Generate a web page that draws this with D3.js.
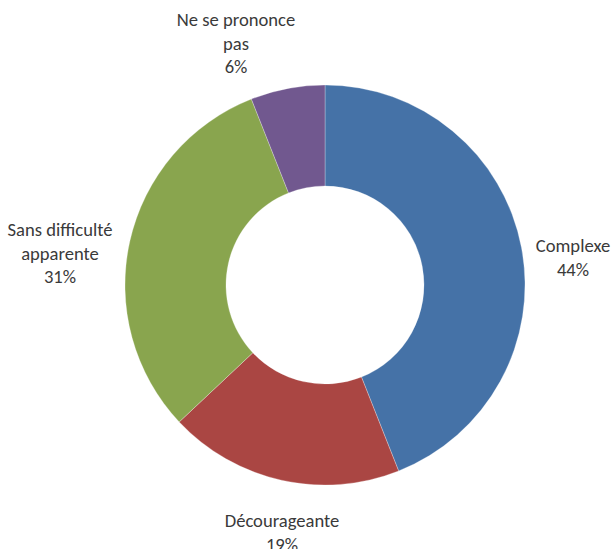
<!DOCTYPE html>
<html>
<head>
<meta charset="utf-8">
<script src="https://cdn.jsdelivr.net/npm/d3@7"></script>
<style>
  html, body { margin: 0; padding: 0; background: #fff; }
  svg { display: block; }
  text { font-family: Carlito, Calibri, Lato, sans-serif; fill: #3a3a3a; }
</style>
</head>
<body>
<svg id="chart" width="612" height="549"></svg>
<script>
// Survey answers, in drawing order (clockwise from 12 o'clock)
const categories = ["Complexe", "Décourageante", "Sans difficulté apparente", "Ne se prononce pas"];
const values = [44, 19, 31, 6];
const labelLines = [["Complexe"], ["Décourageante"], ["Sans difficulté", "apparente"], ["Ne se prononce", "pas"]];
const colors = ["#4572A7", "#AA4643", "#89A54E", "#71588F"];

const width = 612, height = 549;
const cx = 325, cy = 285;
const outerR = 200, innerR = 99;

// where each label block is centred (x) and where its first line sits (y baseline)
const labelAnchor = [
  { x: 573, y: 252 },
  { x: 282, y: 527 },
  { x: 60,  y: 236 },
  { x: 236, y: 26 }
];
const lineHeight = 23.5;

const svg = d3.select("#chart");
const g = svg.append("g").attr("transform", `translate(${cx},${cy})`);

const pie = d3.pie().sort(null).value(d => d);
const arc = d3.arc().innerRadius(innerR).outerRadius(outerR);

const arcs = pie(values);

g.selectAll("path.slice")
  .data(arcs)
  .join("path")
  .attr("class", "slice")
  .attr("d", arc)
  .attr("fill", (d, i) => colors[i])
  .attr("stroke", "rgba(255,255,255,0.35)")
  .attr("stroke-width", 0.8);

const fmt = d3.format(".0%");
const total = d3.sum(values);

const labels = svg.selectAll("text.label")
  .data(arcs)
  .join("text")
  .attr("class", "label")
  .attr("text-anchor", "middle")
  .attr("font-size", 18.6)
  .attr("x", (d, i) => labelAnchor[i].x)
  .attr("y", (d, i) => labelAnchor[i].y);

labels.each(function(d, i) {
  const t = d3.select(this);
  const lines = labelLines[i].concat([fmt(d.data / total)]);
  lines.forEach((line, k) => {
    t.append("tspan")
      .attr("x", labelAnchor[i].x)
      .attr("dy", k === 0 ? 0 : lineHeight)
      .text(line);
  });
});
</script>
</body>
</html>
